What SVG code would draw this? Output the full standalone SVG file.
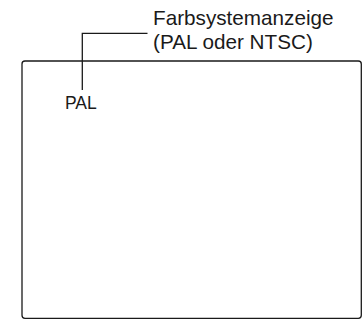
<svg xmlns="http://www.w3.org/2000/svg" width="363" height="320" viewBox="0 0 363 320">
<style>
text{font-family:"Liberation Sans",Arial,sans-serif;fill:#1a1a1a}
.ln{fill:none;stroke:#1a1a1a;stroke-width:1.3}
</style>
<rect width="363" height="320" fill="#fff"/>
<g id="screen">
<rect class="ln" x="22" y="61" width="339.3" height="257.3" rx="3"/>
<text x="65" y="108.5" font-size="17.5">PAL</text>
</g>
<g id="label">
<text x="153" y="24.5" font-size="20.7">Farbsystemanzeige</text>
<text x="153" y="49" font-size="20.7">(PAL oder NTSC)</text>
</g>
<g id="connectors">
<polyline class="ln" points="147.5,33.3 82.3,33.3 82.3,90"/>
</g>
</svg>
